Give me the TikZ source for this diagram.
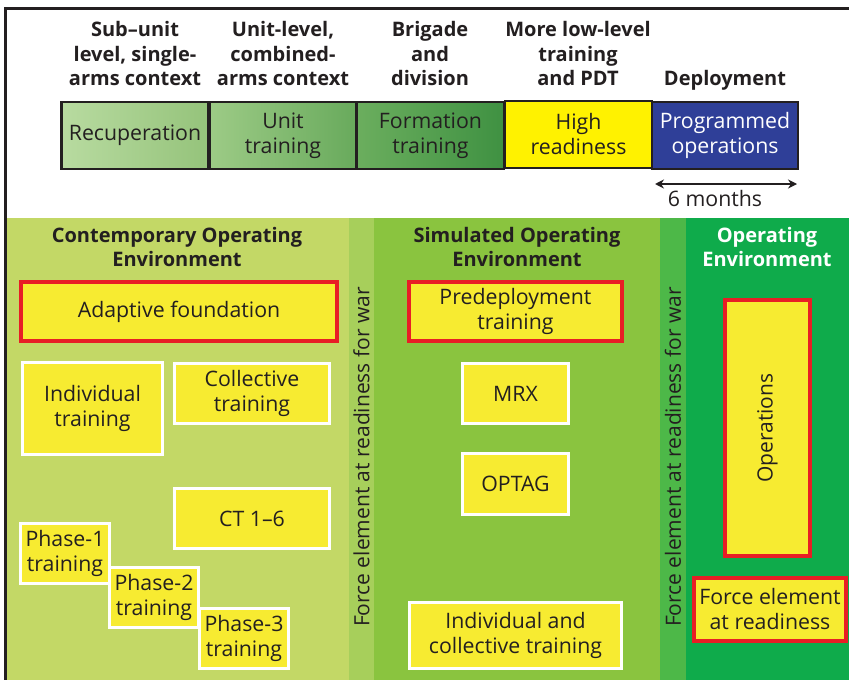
\documentclass[tikz,border=0pt]{standalone}
\usepackage{fontspec}
\setmainfont{Open Sans}
\usetikzlibrary{arrows.meta}
\definecolor{yel}{HTML}{F7EB31}
\definecolor{hiyel}{HTML}{FFF200}
\definecolor{redb}{HTML}{E81E25}
\definecolor{bandA}{HTML}{C3D866}
\definecolor{stripA}{HTML}{A7CF5B}
\definecolor{bandB}{HTML}{8AC43F}
\definecolor{stripB}{HTML}{4DB848}
\definecolor{bandC}{HTML}{0FAB4B}
\definecolor{progblue}{HTML}{2F3F98}
\definecolor{txt}{HTML}{231F20}
\definecolor{g1l}{HTML}{B8DBA0}
\definecolor{g1r}{HTML}{95C37B}
\definecolor{g2l}{HTML}{9DCB86}
\definecolor{g2r}{HTML}{68AA5C}
\definecolor{g3l}{HTML}{6BAE5E}
\definecolor{g3r}{HTML}{3F9142}
\tikzset{
  boxtxt/.style={font=\fontsize{21.3}{25}\selectfont, text=txt, align=center},
  ybox/.style={boxtxt, fill=yel, draw=white, line width=2.2pt, inner sep=0pt},
  rbox/.style={boxtxt, fill=yel, draw=redb, line width=4pt, inner sep=0pt},
  topbox/.style={boxtxt, draw=txt, line width=2.5pt, inner sep=0pt, minimum height=67, text width=145, minimum width=147},
  head/.style={font=\bfseries\fontsize{20}{24.7}\selectfont, text=txt, align=center},
  vert/.style={font=\fontsize{21}{25}\selectfont, text=txt, rotate=90},
}
\begin{document}
\begin{tikzpicture}[x=1pt,y=-1pt]
\useasboundingbox (0,0) rectangle (849,680);
\fill[white] (0,0) rectangle (849,680);
% bottom bands
\fill[bandA] (5,218) rectangle (349,680);
\fill[stripA] (349,218) rectangle (374,680);
\fill[bandB] (374,218) rectangle (660,680);
\fill[stripB] (660,218) rectangle (686,680);
\fill[bandC] (686,218) rectangle (849,680);
% frame
\draw[txt, line width=3pt] (849,8) -- (5.5,8) -- (5.5,680);
% top headers
\node[head] (h1) at (135,53.5) {Sub–unit\\level, single-\\arms context};
\node[head] (h2) at (283,53.5) {Unit-level,\\combined-\\arms context};
\node[head] (h3) at (430,53.5) {Brigade\\and\\division};
\node[head] (h4) at (578,53.5) {More low-level\\training\\and PDT};
\node[head] (h5) at (725,80) {Deployment};
% top boxes
\node[topbox, left color=g1l, right color=g1r] (recup) at (135,135.5) {Recuperation};
\node[topbox, left color=g2l, right color=g2r] (unit) at (283,135.5) {Unit\\training};
\node[topbox, left color=g3l, right color=g3r] (form) at (430.5,135.5) {Formation\\training};
\node[topbox, fill=hiyel] (high) at (578.5,134.5) {High\\readiness};
\node[topbox, fill=progblue, text=white, minimum width=146, text width=146] (prog) at (725,135.5) {Programmed\\operations};
% 6 months
\coordinate (aL) at (655,184);
\coordinate (aR) at (797,184);
\draw[txt, line width=1.6pt, {Stealth[length=9pt,width=9pt]}-{Stealth[length=9pt,width=9pt]}] (aL) -- (aR);
\node[boxtxt] (six) at (715,199) {6 months};
% bottom headers
\node[head] (hc) at (177,247) {Contemporary Operating\\Environment};
\node[head] (hs) at (517,247) {Simulated Operating\\Environment};
\node[head, text=white] (ho) at (767,247) {Operating\\Environment};
% vertical labels
\node[vert] (v1) at (361.5,457) {Force element at readiness for war};
\node[vert] (v2) at (673,457) {Force element at readiness for war};
% contemporary boxes
\node[rbox, minimum width=316, minimum height=59] (adapt) at (179,311.5) {Adaptive foundation};
\node[ybox, minimum width=140, minimum height=92] (indiv) at (92.5,408.5) {Individual\\training};
\node[ybox, minimum width=155, minimum height=60] (coll) at (252,393.5) {Collective\\training};
\node[ybox, minimum width=155, minimum height=60] (ct) at (252,518.5) {CT 1–6};
\node[ybox, minimum width=89, minimum height=60] (p1) at (65,553.5) {Phase-1\\training};
\node[ybox, minimum width=89, minimum height=60] (p2) at (154,597.5) {Phase-2\\training};
\node[ybox, minimum width=89, minimum height=60] (p3) at (244,638.5) {Phase-3\\training};
% simulated boxes
\node[rbox, minimum width=213, minimum height=59] (pre) at (515.5,311.5) {Predeployment\\training};
\node[ybox, minimum width=106, minimum height=60] (mrx) at (515.5,393.5) {MRX};
\node[ybox, minimum width=106, minimum height=61] (optag) at (515.5,484) {OPTAG};
\node[ybox, minimum width=212, minimum height=66] (ict) at (515.5,635.5) {Individual and\\collective training};
% operating boxes
\node[rbox, minimum width=85, minimum height=256] (ops) at (767.5,428) {};
\node[vert] (opst) at (767.5,428) {Operations};
\node[rbox, minimum width=152, minimum height=63, inner sep=0pt] (fer) at (770,609.5) {Force element\\at readiness};
\end{tikzpicture}
\end{document}
